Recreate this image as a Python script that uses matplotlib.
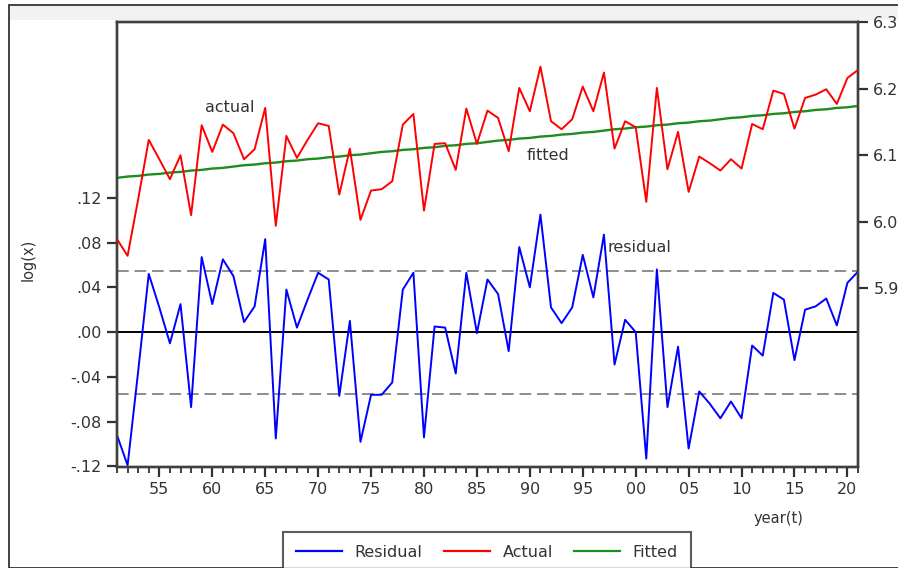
import matplotlib.pyplot as plt
from matplotlib.lines import Line2D
from matplotlib.patches import Rectangle
from matplotlib.ticker import MultipleLocator, FixedLocator

plt.rcParams['font.family'] = ['DejaVu Sans']

years = list(range(1951, 2022))

residual = [-0.092, -0.119, -0.035, 0.052, 0.022, -0.010, 0.025, -0.067, 0.067, 0.025,
            0.065, 0.050, 0.009, 0.023, 0.083, -0.095, 0.038, 0.004, 0.029, 0.053,
            0.047, -0.057, 0.010, -0.098, -0.056, -0.056, -0.045, 0.038, 0.053, -0.094,
            0.005, 0.004, -0.037, 0.053, -0.001, 0.047, 0.034, -0.017, 0.076, 0.040,
            0.105, 0.022, 0.008, 0.022, 0.069, 0.031, 0.087, -0.029, 0.011, 0.000,
            -0.113, 0.056, -0.067, -0.013, -0.104, -0.053, -0.064, -0.077, -0.062, -0.077,
            -0.012, -0.021, 0.035, 0.029, -0.025, 0.020, 0.023, 0.030, 0.006, 0.044,
            0.054]

fitted = [6.066, 6.068, 6.069, 6.071, 6.072, 6.074, 6.075, 6.077, 6.078, 6.080,
          6.081, 6.083, 6.085, 6.086, 6.088, 6.089, 6.091, 6.092, 6.094, 6.095,
          6.097, 6.098, 6.100, 6.101, 6.103, 6.105, 6.106, 6.108, 6.109, 6.111,
          6.112, 6.114, 6.115, 6.117, 6.118, 6.120, 6.122, 6.123, 6.125, 6.126,
          6.128, 6.129, 6.131, 6.132, 6.134, 6.135, 6.137, 6.139, 6.140, 6.142,
          6.143, 6.145, 6.146, 6.148, 6.149, 6.151, 6.152, 6.154, 6.156, 6.157,
          6.159, 6.160, 6.162, 6.163, 6.165, 6.166, 6.168, 6.169, 6.171, 6.172,
          6.174]

# actual = fitted + residual (definition of the residual)
actual = [f + r for f, r in zip(fitted, residual)]

std_err = 0.055
left_ticks = [-0.12, -0.08, -0.04, 0.00, 0.04, 0.08, 0.12]
left_labels = ['-.12', '-.08', '-.04', '.00', '.04', '.08', '.12']
right_ticks = [5.9, 6.0, 6.1, 6.2, 6.3]
x_ticks = list(range(1955, 2021, 5))
x_labels = ['%02d' % (y % 100) for y in x_ticks]

txt = '#333333'
fs = 11.5

fig = plt.figure(figsize=(8.98, 5.68), dpi=100)
ax = fig.add_axes([117 / 898, 1 - 467 / 568, 741 / 898, 445 / 568])
ax2 = ax.twinx()

# residual on the left axis
ax.axhline(0, color='black', lw=1.4, zorder=1)
ax.axhline(std_err, color='#8c8c8c', lw=1.4, ls=(0, (6, 3)), zorder=1)
ax.axhline(-std_err, color='#8c8c8c', lw=1.4, ls=(0, (6, 3)), zorder=1)
ax.plot(years, residual, color='#0000ff', lw=1.4, zorder=3)
ax.set_ylim(-0.1205, 0.277)
ax.set_xlim(1951, 2021)
ax.yaxis.set_major_locator(FixedLocator(left_ticks))
ax.set_yticklabels(left_labels)
ax.set_xticks(x_ticks)
ax.set_xticklabels(x_labels)
ax.xaxis.set_minor_locator(MultipleLocator(1))
ax.set_ylabel('log(x)', fontsize=10.5, color=txt)
ax.yaxis.set_label_coords(-0.11, 0.465)
ax.set_xlabel('year(t)', fontsize=10.5, color=txt)
ax.xaxis.set_label_coords(0.893, -0.10)

# actual and fitted on the right axis
ax2.plot(years, actual, color='#ff0000', lw=1.4, zorder=3)
ax2.plot(years, fitted, color='#1f8c1f', lw=1.7, zorder=2)
ax2.set_ylim(5.632, 6.3)
ax2.yaxis.set_major_locator(FixedLocator(right_ticks))
ax2.set_yticklabels(['5.9', '6.0', '6.1', '6.2', '6.3'])

for a in (ax, ax2):
    for s in a.spines.values():
        s.set_color('#404040')
        s.set_linewidth(1.7)
    a.tick_params(axis='both', which='major', length=7, width=1.6, color=txt,
                  labelsize=fs, labelcolor=txt, pad=4)
    a.tick_params(axis='x', which='minor', length=4, width=1.3, color=txt)

ax2.text(1959.3, 6.171, 'actual', fontsize=fs, color=txt, ha='left', va='center')
ax2.text(1989.7, 6.1, 'fitted', fontsize=fs, color=txt, ha='left', va='center')
ax.text(1997.3, 0.076, 'residual', fontsize=fs, color=txt, ha='left', va='center')

# legend below the plot, partially cut by the image edge
handles = [Line2D([], [], color='#0000ff', lw=1.6),
           Line2D([], [], color='#ff0000', lw=1.6),
           Line2D([], [], color='#1f8c1f', lw=1.6)]
leg = fig.legend(handles, ['Residual', 'Actual', 'Fitted'], ncol=3,
                 loc='upper left', bbox_to_anchor=(283 / 898, 1 - 532 / 568),
                 borderaxespad=0, frameon=True, fancybox=False, fontsize=fs,
                 handlelength=2.9, columnspacing=1.3, handletextpad=0.8, borderpad=0.8)
leg.get_frame().set_edgecolor(txt)
leg.get_frame().set_linewidth(1.5)
for t in leg.get_texts():
    t.set_color(txt)

# window frame
fig.add_artist(Rectangle((9 / 898, 0), 1, 1 - 5 / 568, transform=fig.transFigure,
                         fill=False, edgecolor=txt, lw=1.3))
fig.add_artist(Rectangle((10 / 898, 1 - 20 / 568), 1, 14 / 568, transform=fig.transFigure,
                         facecolor='#f2f2f2', edgecolor='none', zorder=-1))

fig.savefig('out.png', dpi=100)
